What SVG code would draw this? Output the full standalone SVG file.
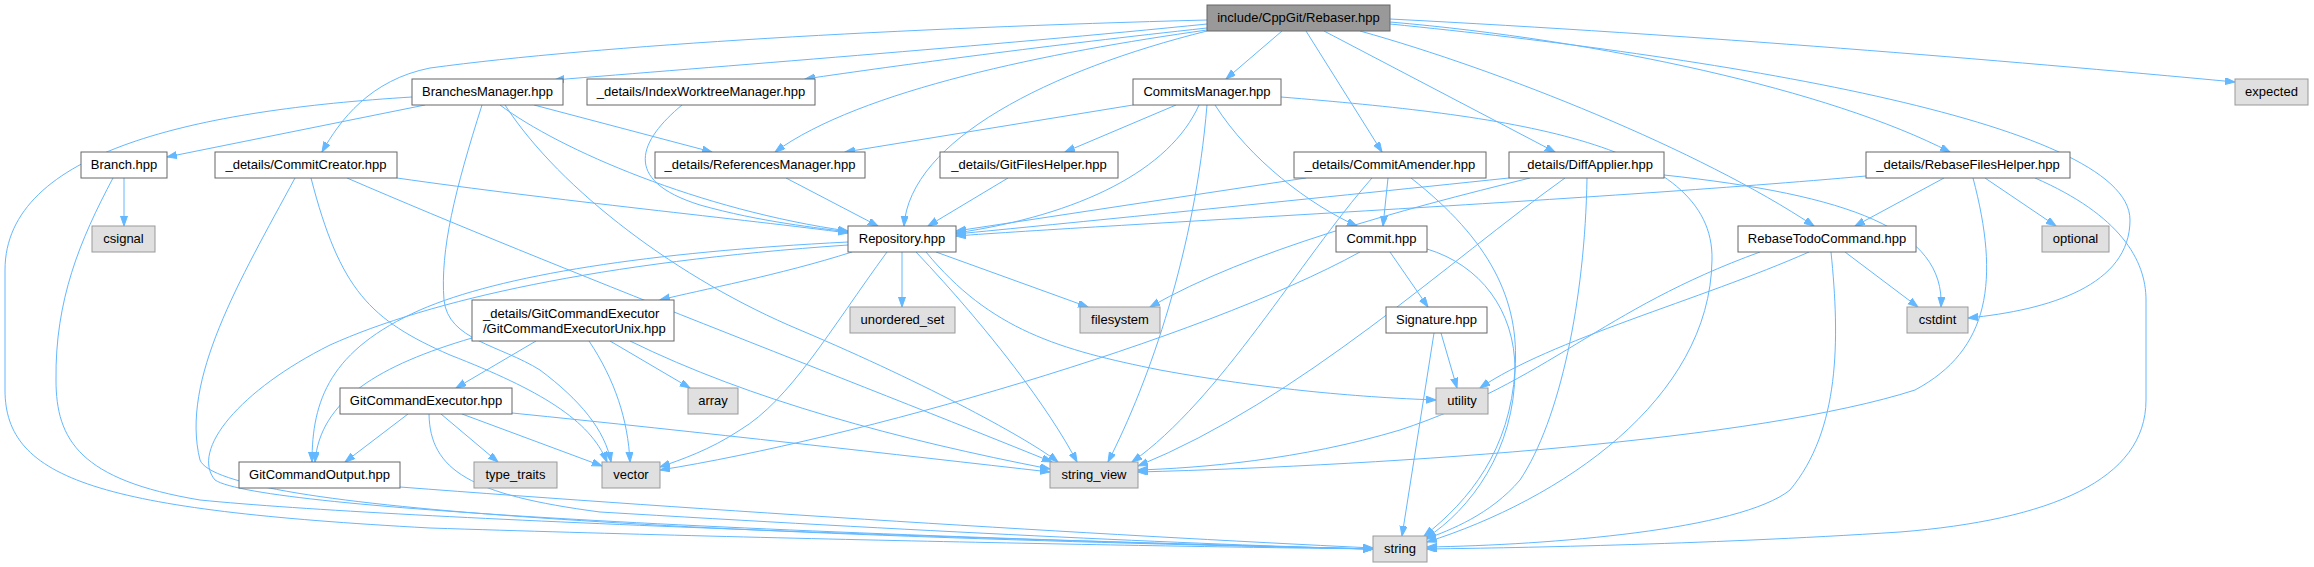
<svg xmlns="http://www.w3.org/2000/svg" width="2314" height="567" viewBox="0 0 2314 567">
<style>
text{font-family:"Liberation Sans",Arial,sans-serif;font-size:13px;fill:#000;text-anchor:middle}
.n rect{fill:#fff;stroke:#666;stroke-width:1}
.s rect{fill:#e0e0e0;stroke:#999;stroke-width:1}
.r rect{fill:#999;stroke:#666;stroke-width:1}
#edges path{fill:none;stroke:#63b8ff;stroke-width:1;marker-end:url(#ah)}
</style>
<defs>
<marker id="ah" markerUnits="userSpaceOnUse" markerWidth="11" markerHeight="8" refX="10" refY="3.5" orient="auto"><path d="M0,0 L10,3.5 L0,7 z" fill="#63b8ff" stroke="#63b8ff"/></marker>
</defs>
<rect width="2314" height="567" fill="#fff"/>
<g id="edges">
<path d="M1207,24 C1000,45 700,68 554,80"/>
<path d="M1207,28 C1050,45 900,65 805,79"/>
<path d="M1207,20 C900,28 600,45 430,68 C370,80 340,120 322,152"/>
<path d="M1207,30 C1050,52 860,90 775,152"/>
<path d="M1207,31 C1050,70 910,140 904,226"/>
<path d="M1282,31 L1226,79"/>
<path d="M1306,31 L1382,152"/>
<path d="M1324,31 L1555,152"/>
<path d="M1360,31 C1500,70 1700,150 1814,226"/>
<path d="M1390,22 C1600,40 1830,90 1950,152"/>
<path d="M1390,19 C1700,35 2000,60 2235,82"/>
<path d="M1390,24 C1700,55 2130,120 2130,220 C2130,285 2050,310 1968,318"/>
<path d="M425,105 L167,157"/>
<path d="M412,97 C200,110 5,150 5,270 L5,390 C5,480 100,510 430,528 C800,540 1200,547 1373,549"/>
<path d="M482,105 C455,190 440,250 444,300 C448,340 500,345 540,370 C580,400 605,430 611,462"/>
<path d="M534,105 L712,152"/>
<path d="M500,105 C560,150 700,210 848,231"/>
<path d="M505,105 C560,190 680,280 800,330 C930,385 1030,440 1058,462"/>
<path d="M682,105 C640,140 620,180 700,205 C760,222 820,228 848,232"/>
<path d="M1133,105 L845,152"/>
<path d="M1176,105 L1065,152"/>
<path d="M1199,105 C1170,170 1080,215 956,233"/>
<path d="M1207,105 C1195,250 1150,380 1108,462"/>
<path d="M1215,105 C1250,160 1310,205 1357,226"/>
<path d="M1281,97 C1500,115 1715,140 1712,260 C1710,400 1560,500 1427,542"/>
<path d="M124,178 L124,226"/>
<path d="M113,178 C80,240 55,300 56,380 C56,440 80,480 200,500 C400,520 1000,540 1373,549"/>
<path d="M397,178 C550,200 750,220 848,233"/>
<path d="M295,178 C240,280 180,380 200,460 C220,510 700,535 1373,549"/>
<path d="M347,178 C560,270 850,380 1052,462"/>
<path d="M311,178 C340,290 370,320 450,355 C540,390 590,420 607,462"/>
<path d="M786,178 L878,226"/>
<path d="M1008,178 L928,226"/>
<path d="M1306,178 L956,231"/>
<path d="M1388,178 L1383,226"/>
<path d="M1372,178 C1300,260 1220,400 1132,462"/>
<path d="M1411,178 C1490,240 1520,300 1515,370 C1510,450 1470,500 1424,536"/>
<path d="M1509,178 C1300,200 1050,225 956,234"/>
<path d="M1530,178 C1400,210 1250,250 1150,307"/>
<path d="M1565,178 C1450,260 1300,400 1138,466"/>
<path d="M1587,178 C1585,300 1560,420 1520,480 C1490,515 1450,530 1426,539"/>
<path d="M1664,175 C1850,195 1945,230 1941,307"/>
<path d="M1866,176 C1600,200 1100,225 956,236"/>
<path d="M1944,178 L1855,226"/>
<path d="M1985,178 L2056,226"/>
<path d="M1973,178 C2000,280 1990,350 1915,390 C1760,440 1400,465 1138,472"/>
<path d="M2035,178 C2120,215 2146,260 2146,300 L2146,400 C2146,480 2050,520 1900,532 C1700,545 1500,548 1427,549"/>
<path d="M1845,252 L1918,307"/>
<path d="M1809,252 C1700,300 1550,340 1480,388"/>
<path d="M1760,252 C1600,310 1550,380 1400,430 C1300,460 1200,468 1138,470"/>
<path d="M1831,252 C1840,340 1840,430 1790,490 C1740,530 1550,545 1427,547"/>
<path d="M852,252 C780,275 700,290 660,300"/>
<path d="M848,242 C650,252 500,275 420,310 C330,350 312,400 312,462"/>
<path d="M848,245 C600,262 430,300 330,345 C240,390 190,450 215,480 C260,510 800,535 1373,549"/>
<path d="M902,252 L902,307"/>
<path d="M936,252 L1088,307"/>
<path d="M926,252 C990,330 1060,350 1160,370 C1280,392 1380,398 1436,400"/>
<path d="M916,252 C990,330 1050,410 1077,462"/>
<path d="M887,252 C830,330 790,400 740,430 C710,450 680,460 660,467"/>
<path d="M1390,252 L1428,307"/>
<path d="M1427,249 C1480,265 1515,310 1515,370 C1515,450 1470,510 1426,538"/>
<path d="M1360,252 C1200,340 850,440 660,470"/>
<path d="M1434,333 L1402,536"/>
<path d="M1441,333 L1457,388"/>
<path d="M536,341 L456,388"/>
<path d="M472,338 C380,365 320,400 315,462"/>
<path d="M610,341 L690,388"/>
<path d="M589,341 C615,380 628,420 630,462"/>
<path d="M630,341 C750,400 900,440 1050,469"/>
<path d="M408,414 L345,462"/>
<path d="M441,414 L498,462"/>
<path d="M462,414 L602,466"/>
<path d="M512,413 C700,432 900,455 1050,472"/>
<path d="M429,414 C430,470 470,495 600,512 C900,530 1200,545 1373,549"/>
<path d="M400,487 C700,510 1100,535 1373,548"/>
</g>
<g id="n0" class="r"><rect x="1207" y="5" width="183" height="26"/><text x="1298.5" y="22">include/CppGit/Rebaser.hpp</text></g>
<g id="n1" class="n"><rect x="412" y="79" width="151" height="26"/><text x="487.5" y="96">BranchesManager.hpp</text></g>
<g id="n2" class="n"><rect x="587" y="79" width="228" height="26"/><text x="701" y="96">_details/IndexWorktreeManager.hpp</text></g>
<g id="n3" class="n"><rect x="1133" y="79" width="148" height="26"/><text x="1207" y="96">CommitsManager.hpp</text></g>
<g id="n4" class="s"><rect x="2235" y="79" width="73" height="26"/><text x="2271.5" y="96">expected</text></g>
<g id="n5" class="n"><rect x="81" y="152" width="86" height="26"/><text x="124" y="169">Branch.hpp</text></g>
<g id="n6" class="n"><rect x="215" y="152" width="182" height="26"/><text x="306" y="169">_details/CommitCreator.hpp</text></g>
<g id="n7" class="n"><rect x="655" y="152" width="210" height="26"/><text x="760" y="169">_details/ReferencesManager.hpp</text></g>
<g id="n8" class="n"><rect x="940" y="152" width="178" height="26"/><text x="1029" y="169">_details/GitFilesHelper.hpp</text></g>
<g id="n9" class="n"><rect x="1294" y="152" width="192" height="26"/><text x="1390" y="169">_details/CommitAmender.hpp</text></g>
<g id="n10" class="n"><rect x="1509" y="152" width="155" height="26"/><text x="1586.5" y="169">_details/DiffApplier.hpp</text></g>
<g id="n11" class="n"><rect x="1866" y="152" width="204" height="26"/><text x="1968" y="169">_details/RebaseFilesHelper.hpp</text></g>
<g id="n12" class="s"><rect x="92" y="226" width="63" height="26"/><text x="123.5" y="243">csignal</text></g>
<g id="n13" class="n"><rect x="848" y="226" width="108" height="26"/><text x="902" y="243">Repository.hpp</text></g>
<g id="n14" class="n"><rect x="1336" y="226" width="91" height="26"/><text x="1381.5" y="243">Commit.hpp</text></g>
<g id="n15" class="n"><rect x="1738" y="226" width="178" height="26"/><text x="1827" y="243">RebaseTodoCommand.hpp</text></g>
<g id="n16" class="s"><rect x="2042" y="226" width="67" height="26"/><text x="2075.5" y="243">optional</text></g>
<g id="n17" class="s"><rect x="850" y="307" width="105" height="26"/><text x="902.5" y="324">unordered_set</text></g>
<g id="n18" class="s"><rect x="1080" y="307" width="80" height="26"/><text x="1120" y="324">filesystem</text></g>
<g id="n19" class="n"><rect x="1386" y="307" width="101" height="26"/><text x="1436.5" y="324">Signature.hpp</text></g>
<g id="n20" class="s"><rect x="1907" y="307" width="61" height="26"/><text x="1937.5" y="324">cstdint</text></g>
<g id="n21" class="n"><rect x="472" y="300" width="202" height="41"/><text x="483" y="318" style="text-anchor:start">_details/GitCommandExecutor</text><text x="483" y="333" style="text-anchor:start">/GitCommandExecutorUnix.hpp</text></g>
<g id="n22" class="n"><rect x="340" y="388" width="172" height="26"/><text x="426" y="405">GitCommandExecutor.hpp</text></g>
<g id="n23" class="s"><rect x="688" y="388" width="50" height="26"/><text x="713" y="405">array</text></g>
<g id="n24" class="s"><rect x="1436" y="388" width="52" height="26"/><text x="1462" y="405">utility</text></g>
<g id="n25" class="n"><rect x="239" y="462" width="161" height="26"/><text x="319.5" y="479">GitCommandOutput.hpp</text></g>
<g id="n26" class="s"><rect x="474" y="462" width="83" height="26"/><text x="515.5" y="479">type_traits</text></g>
<g id="n27" class="s"><rect x="602" y="462" width="58" height="26"/><text x="631" y="479">vector</text></g>
<g id="n28" class="s"><rect x="1050" y="462" width="88" height="26"/><text x="1094" y="479">string_view</text></g>
<g id="n29" class="s"><rect x="1373" y="536" width="54" height="26"/><text x="1400" y="553">string</text></g>
</svg>
